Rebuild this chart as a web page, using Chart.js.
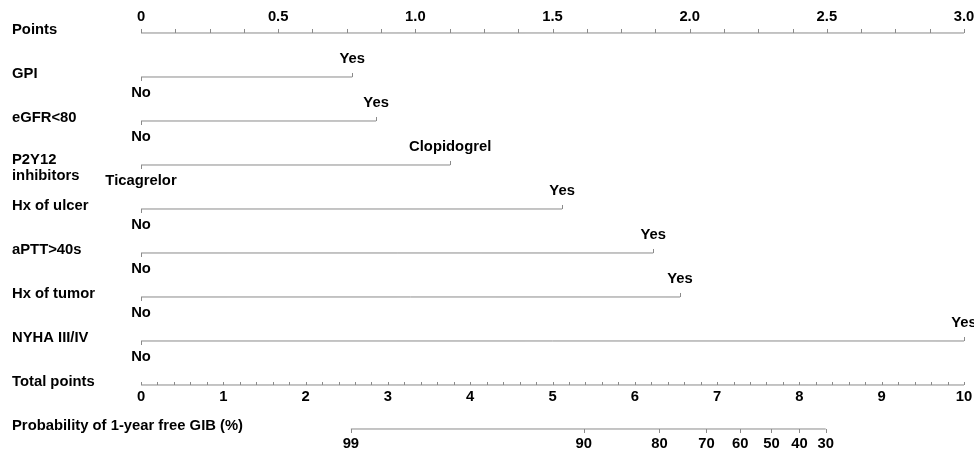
<!DOCTYPE html>
<html>
<head>
<meta charset="utf-8">
<script src="https://cdn.jsdelivr.net/npm/chart.js@4.4.0/dist/chart.umd.min.js"></script>
<style>
  html, body { margin: 0; padding: 0; background: #fff; }
</style>
</head>
<body>
<canvas id="nomo" width="974" height="452"></canvas>
<script>
  // nomogram data
  const rowNames = ['Points', 'GPI', 'eGFR<80', ['P2Y12', 'inhibitors'], 'Hx of ulcer', 'aPTT>40s',
    'Hx of tumor', 'NYHA III/IV', 'Total points', 'Probability of 1-year free GIB (%)'];
  const lowLabels = ['No', 'No', 'Ticagrelor', 'No', 'No', 'No', 'No'];
  const highLabels = ['Yes', 'Yes', 'Clopidogrel', 'Yes', 'Yes', 'Yes', 'Yes'];
  const highPoints = [0.77, 0.857, 1.127, 1.535, 1.867, 1.965, 3.0];

  const pointTicks = [0, 0.5, 1, 1.5, 2, 2.5, 3];
  const pointTickLabels = ['0', '0.5', '1.0', '1.5', '2.0', '2.5', '3.0'];
  const totalTicks = [0, 1, 2, 3, 4, 5, 6, 7, 8, 9, 10];
  const probTicks = [99, 90, 80, 70, 60, 50, 40, 30];
  const probTotals = [2.55, 5.38, 6.30, 6.87, 7.28, 7.66, 8.00, 8.32];

  const pointsPerTotal = 3 / 10;
  const lineColor = '#8a8a8a';
  const font = 'bold 14.8px "Liberation Sans", Arial, sans-serif';

  const segments = highPoints.map((v, i) => ({
    data: [{ x: 0, y: i + 1 }, { x: v, y: i + 1 }],
    showLine: true,
    borderColor: lineColor,
    borderWidth: 1,
    pointRadius: 0
  }));

  const axisSets = [
    { data: [{ x: 0, y: 0 }, { x: 3, y: 0 }] },
    { data: [{ x: 0, y: 8 }, { x: 10 * pointsPerTotal, y: 8 }] },
    { data: [{ x: probTotals[0] * pointsPerTotal, y: 9 },
             { x: probTotals[probTotals.length - 1] * pointsPerTotal, y: 9 }] }
  ].map(d => Object.assign(d, { showLine: true, borderColor: lineColor, borderWidth: 1, pointRadius: 0 }));

  const nomoText = {
    id: 'nomoText',
    afterDatasetsDraw(chart) {
      const { ctx, scales: { x, y } } = chart;
      const px = v => x.getPixelForValue(v);
      const py = r => y.getPixelForValue(r);
      ctx.save();
      ctx.strokeStyle = lineColor;
      ctx.lineWidth = 1;
      const tick = (xv, row, len) => {
        const X = Math.round(px(xv)) + 0.5, Y = py(row);
        ctx.beginPath(); ctx.moveTo(X, Y); ctx.lineTo(X, Y + len); ctx.stroke();
      };
      // points axis ticks
      for (let v = 0; v <= 3.0001; v += 0.125) tick(v, 0, -4);
      // total points ticks
      for (let v = 0; v <= 10.0001; v += 0.2) tick(v * pointsPerTotal, 8, -3);
      // probability ticks
      probTotals.forEach(t => tick(t * pointsPerTotal, 9, 4));
      // variable end ticks
      highPoints.forEach((v, i) => { tick(0, i + 1, 4); tick(v, i + 1, -4); });

      ctx.fillStyle = '#000';
      ctx.font = font;
      ctx.textBaseline = 'middle';
      ctx.textAlign = 'left';
      rowNames.forEach((n, r) => {
        if (Array.isArray(n)) {
          ctx.fillText(n[0], 12, py(r) - 5);
          ctx.fillText(n[1], 12, py(r) + 11);
        } else {
          ctx.fillText(n, 12, py(r) - 3);
        }
      });
      ctx.textAlign = 'center';
      pointTicks.forEach((v, i) => ctx.fillText(pointTickLabels[i], px(v), py(0) - 16));
      totalTicks.forEach(v => ctx.fillText(String(v), px(v * pointsPerTotal), py(8) + 12));
      probTicks.forEach((p, i) => ctx.fillText(String(p), px(probTotals[i] * pointsPerTotal), py(9) + 15));
      highPoints.forEach((v, i) => {
        ctx.fillText(highLabels[i], px(v), py(i + 1) - 18);
        ctx.fillText(lowLabels[i], px(0), py(i + 1) + 16);
      });
      ctx.restore();
    }
  };

  new Chart(document.getElementById('nomo'), {
    type: 'scatter',
    data: { datasets: segments.concat(axisSets) },
    options: {
      responsive: false,
      animation: false,
      layout: { padding: { left: 141, right: 10, top: 0, bottom: 0 } },
      plugins: { legend: { display: false }, tooltip: { enabled: false } },
      scales: {
        x: { type: 'linear', min: 0, max: 3, display: false },
        y: { type: 'linear', min: -0.75, max: 9.523, reverse: true, display: false }
      }
    },
    plugins: [nomoText]
  });
</script>
</body>
</html>
